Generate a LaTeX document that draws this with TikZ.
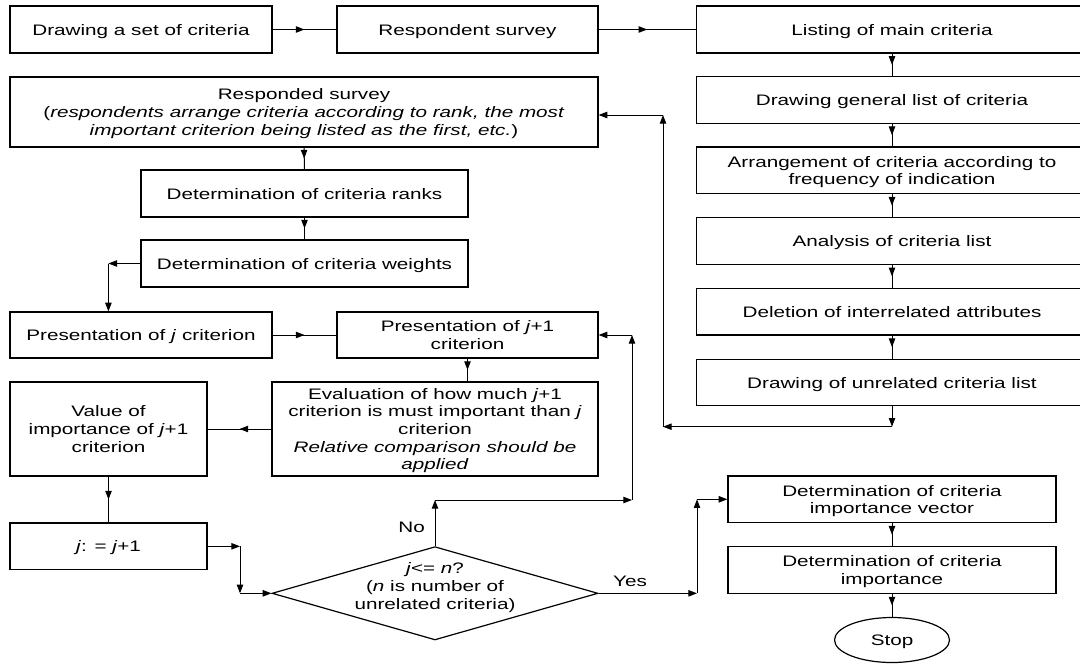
\documentclass[tikz,border=0pt]{standalone}
\usepackage{fontspec}
\setmainfont{Liberation Sans}[FakeStretch=1.36]
\usetikzlibrary{arrows.meta,decorations.markings,shapes.geometric}
\begin{document}
\begin{tikzpicture}[x=0.75pt,y=-0.75pt,
  font=\fontsize{11.4pt}{13.2pt}\selectfont,
  sz/.style 2 args={minimum width=#1*0.75pt, minimum height=#2*0.75pt},
  bx/.style={draw, line width=0.9pt, inner sep=0pt, align=center, text depth=0pt},
  ln/.style={line width=0.75pt},
  tipa/.style={-{Triangle[length=6.5pt,width=4.8pt]}},
  midarr/.style={ln, postaction={decorate}, decoration={markings, mark=at position #1 with {\arrow{Triangle[length=6.5pt,width=4.8pt]}}}},
  midarr/.default=0.5,
  lbl/.style={inner sep=0pt}]
\clip (0,0) rectangle (1080,664);
\fill[white] (0,0) rectangle (1080,664);
% top row
\node[bx, sz={262}{47}] (set) at (141,29.5) {Drawing a set of criteria};
\node[bx, sz={261}{47}] (resp) at (467.5,29.5) {Respondent survey};
\node[bx, sz={391}{47}] (listing) at (892,29.5) {Listing of main criteria};
% right column
\node[bx, sz={391}{46.5}] (general) at (892,100) {Drawing general list of criteria};
\node[bx, sz={391}{46.5}] (arrange) at (892,170.3) {Arrangement of criteria according to\\frequency of indication};
\node[bx, sz={391}{46.5}] (analysis) at (892,241) {Analysis of criteria list};
\node[bx, sz={391}{46.5}] (deletion) at (892,311.7) {Deletion of interrelated attributes};
\node[bx, sz={391}{46.5}] (unrel) at (892,382.5) {Drawing of unrelated criteria list};
% left part
\node[bx, sz={588}{70}] (responded) at (304,112) {Responded survey\\(\textit{respondents arrange criteria according to rank, the most}\\\textit{important criterion being listed as the first, etc.})};
\node[bx, sz={327}{47}] (ranks) at (304.5,193.5) {Determination of criteria ranks};
\node[bx, sz={327}{47}] (weights) at (304.5,263.5) {Determination of criteria weights};
\node[bx, sz={262}{46}] (presj) at (141,335) {Presentation of \textit{j} criterion};
\node[bx, sz={261}{46}] (presj1) at (467.5,335) {Presentation of \textit{j}+1\\criterion};
\node[bx, sz={197}{94}] (value) at (108.5,429) {Value of\\importance of \textit{j}+1\\criterion};
\node[bx, sz={326}{94}] (eval) at (435,429) {Evaluation of how much \textit{j}+1\\criterion is must important than \textit{j}\\criterion\\\textit{Relative comparison should be}\\\textit{applied}};
\node[bx, sz={197}{46.5}] (jbox) at (108.5,546.3) {\textit{j}: = \textit{j}+1};
\node[diamond, draw, line width=0.9pt, inner sep=0pt, sz={326}{93.3}] (dia) at (435,593.3) {};
\node[lbl, align=center] (diatext) at (435,587.5) {\textit{j}<= \textit{n}?\\(\textit{n} is number of\\unrelated criteria)};
\node[bx, sz={328}{46.7}] (vector) at (892,499.3) {Determination of criteria\\importance vector};
\node[bx, sz={328}{46.7}] (importance) at (892,570) {Determination of criteria\\importance};
\node[ellipse, draw, line width=0.9pt, inner sep=0pt, text depth=0pt, sz={115}{45}] (stop) at (892,640) {Stop};
% labels
\node[lbl] (no) at (411.7,527.3) {No};
\node[lbl] (yes) at (630,581.7) {Yes};
% coordinates
\coordinate (c1) at (108.4,263.5);
\coordinate (c2) at (240,546.3);
\coordinate (c3) at (240,593.3);
\coordinate (c4) at (435,500);
\coordinate (c5) at (632,500);
\coordinate (c6) at (632,335);
\coordinate (c7) at (697,593.3);
\coordinate (c8) at (697,499.3);
\coordinate (c9) at (892,426.7);
\coordinate (c10) at (663,426.7);
\coordinate (c11) at (663,115);
% straight connectors
\draw[midarr] (set.east) -- (resp.west);
\draw[midarr] (resp.east) -- (listing.west);
\draw[midarr] (listing.south) -- (general.north);
\draw[midarr] (general.south) -- (arrange.north);
\draw[midarr] (arrange.south) -- (analysis.north);
\draw[midarr] (analysis.south) -- (deletion.north);
\draw[midarr] (deletion.south) -- (unrel.north);
\draw[midarr] (responded.south) -- (ranks.north);
\draw[midarr] (ranks.south) -- (weights.north);
\draw[midarr] (presj.east) -- (presj1.west);
\draw[midarr] (presj1.south) -- (presj1.south |- eval.north);
\draw[midarr] (eval.west) -- (value.east);
\draw[midarr] (value.south) -- (jbox.north);
\draw[midarr] (vector.south) -- (importance.north);
\draw[midarr] (importance.south) -- (stop.north);
% elbow connectors
\draw[ln,tipa] (weights.west) -- (c1);
\draw[ln,tipa] (c1) -- (c1 |- presj.north);
\draw[ln,tipa] (jbox.east) -- (c2);
\draw[ln,tipa] (c2) -- (c3);
\draw[ln,tipa] (c3) -- (dia.west);
\draw[ln,tipa] (dia.north) -- (c4);
\draw[ln,tipa] (c4) -- (c5);
\draw[ln,tipa] (c5) -- (c6);
\draw[ln,tipa] (c6) -- (presj1.east);
\draw[ln,tipa] (dia.east) -- (c7);
\draw[ln,tipa] (c7) -- (c8);
\draw[ln,tipa] (c8) -- (vector.west);
\draw[ln,tipa] (unrel.south) -- (c9);
\draw[ln,tipa] (c9) -- (c10);
\draw[ln,tipa] (c10) -- (c11);
\draw[ln,tipa] (c11) -- (c11 -| responded.east);
\end{tikzpicture}
\end{document}
